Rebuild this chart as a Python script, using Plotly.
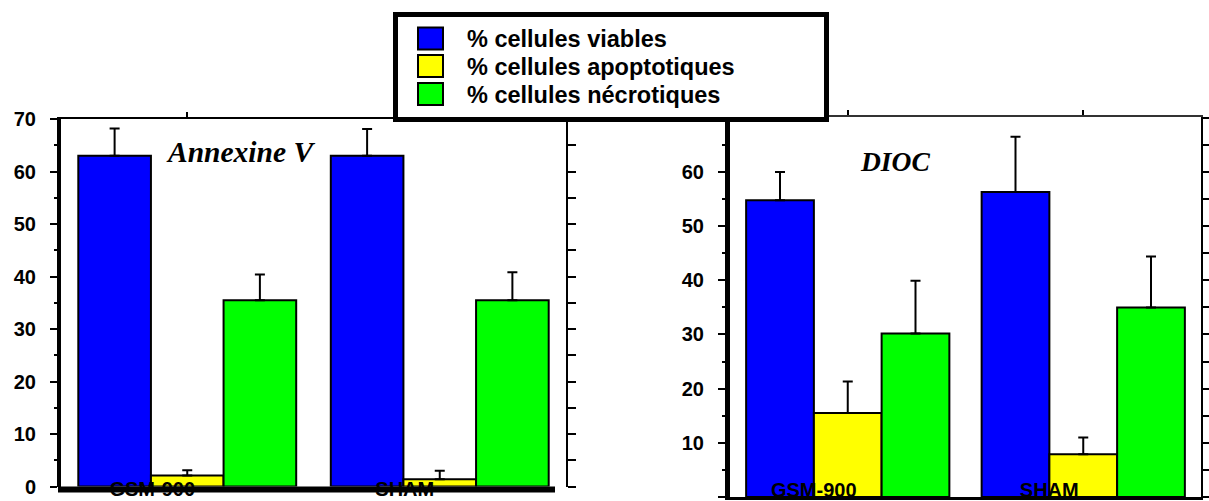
import plotly.graph_objects as go

# ---------------- data ----------------
groups = ["GSM-900", "SHAM"]
series_names = ["% cellules viables", "% cellules apoptotiques", "% cellules nécrotiques"]
series_colors = ["#0000FF", "#FFFF00", "#00FF00"]
panel_titles = ["Annexine V", "DIOC"]

annexine_viables = [63.0, 63.0]
annexine_viables_err = [5.2, 5.1]
annexine_apoptotiques = [2.1, 1.4]
annexine_apoptotiques_err = [1.0, 1.6]
annexine_necrotiques = [35.5, 35.5]
annexine_necrotiques_err = [4.9, 5.3]

dioc_viables = [54.8, 56.3]
dioc_viables_err = [5.2, 10.2]
dioc_apoptotiques = [15.5, 7.9]
dioc_apoptotiques_err = [5.8, 3.1]
dioc_necrotiques = [30.2, 35.0]
dioc_necrotiques_err = [9.7, 9.4]

y_ticks_left = [0, 10, 20, 30, 40, 50, 60, 70]
y_ticks_right = [0, 10, 20, 30, 40, 50, 60]

W, H = 1209, 501
def px_x(v):
    return v / W
def px_y(v):
    return 1 - v / H

FONT = "Arial, Liberation Sans, Arimo, sans-serif"

fig = go.Figure()

panels = [
    ([annexine_viables, annexine_apoptotiques, annexine_necrotiques],
     [annexine_viables_err, annexine_apoptotiques_err, annexine_necrotiques_err], "x", "y"),
    ([dioc_viables, dioc_apoptotiques, dioc_necrotiques],
     [dioc_viables_err, dioc_apoptotiques_err, dioc_necrotiques_err], "x2", "y2"),
]
for vals, errs, xa, ya in panels:
    for name, color, v, e in zip(series_names, series_colors, vals, errs):
        fig.add_trace(go.Bar(
            x=groups, y=v, name=name, xaxis=xa, yaxis=ya, showlegend=False,
            marker=dict(color=color, line=dict(color="black", width=2)),
            error_y=dict(type="data", array=e, arrayminus=[0] * len(e), symmetric=False,
                         color="black", thickness=2, width=5),
        ))

# empty helper traces so the frame axes (top / right) get drawn
for xa, ya in [("x3", "y"), ("x", "y3"), ("x4", "y2"), ("x2", "y4")]:
    fig.add_trace(go.Scatter(x=[None], y=[None], xaxis=xa, yaxis=ya, mode="markers",
                             showlegend=False, hoverinfo="skip"))

tickfont_y = dict(family=FONT, size=20, color="black", weight="bold")
tickfont_x = dict(family=FONT, size=20, color="black", weight="bold")

left_x = [px_x(61), px_x(566)]
left_y = [px_y(486.5), px_y(119)]
right_x = [px_x(730), px_x(1201)]
right_y = [px_y(497), px_y(117)]

frame_common = dict(showgrid=False, zeroline=False, showticklabels=False,
                    ticks="outside", tickwidth=2, tickcolor="black", showline=True,
                    linewidth=2, automargin=False)

fig.update_layout(
    template="none",
    width=W, height=H, margin=dict(l=0, r=0, t=0, b=0, pad=0), autosize=False,
    paper_bgcolor="white", plot_bgcolor="white",
    font=dict(family=FONT, color="black"),
    barmode="group", bargap=0.137, bargroupgap=0,
    xaxis=dict(domain=left_x, anchor="y", type="category", range=[-0.5, 1.5],
               showline=False, ticks="", showgrid=False, zeroline=False, automargin=False,
               tickfont=tickfont_x, ticklabelshift=-35, ticklabelstandoff=-12),
    yaxis=dict(domain=left_y, anchor="x", range=[0, 70], showline=True, linewidth=4,
               linecolor="black", ticks="outside", ticklen=7, tickwidth=2, tickcolor="black",
               tickmode="array", tickvals=y_ticks_left, tickfont=tickfont_y,
               ticklabelstandoff=10, showgrid=False, zeroline=False, automargin=False,
               minor=dict(tickmode="linear", tick0=0, dtick=5, ticks="outside",
                          ticklen=3, tickwidth=2, tickcolor="black", showgrid=False)),
    xaxis3=dict(overlaying="x", anchor="y", side="top", range=[-0.5, 1.5],
                tickmode="linear", tick0=0, dtick=1, ticklen=5, linecolor="black",
                **frame_common),
    yaxis3=dict(overlaying="y", anchor="x", side="right", range=[0, 70],
                tickmode="linear", tick0=0, dtick=5, ticklen=8, linecolor="black",
                **frame_common),
    xaxis2=dict(domain=right_x, anchor="y2", type="category", range=[-0.5, 1.5],
                showline=True, linewidth=3, linecolor="black", ticks="", showgrid=False,
                zeroline=False, automargin=False, tickfont=tickfont_x,
                ticklabelshift=-34, ticklabelstandoff=-27),
    yaxis2=dict(domain=right_y, anchor="x2", range=[0, 70.15], showline=True, linewidth=5,
                linecolor="black", ticks="outside", ticklen=7, tickwidth=2, tickcolor="black",
                tickmode="array", tickvals=y_ticks_right, tickfont=tickfont_y,
                ticklabelstandoff=10, showgrid=False, zeroline=False, automargin=False,
                minor=dict(tickmode="linear", tick0=0, dtick=5, ticks="outside",
                           ticklen=3, tickwidth=2, tickcolor="black", showgrid=False)),
    xaxis4=dict(overlaying="x2", anchor="y2", side="top", range=[-0.5, 1.5],
                tickmode="linear", tick0=0, dtick=1, ticklen=5, linecolor="#333333",
                **frame_common),
    yaxis4=dict(overlaying="y2", anchor="x2", side="right", range=[0, 70.15],
                tickmode="linear", tick0=0, dtick=5, ticklen=7, linecolor="black",
                **frame_common),
)

shapes = []
# thick bottom line of left panel (drawn over the category labels)
shapes.append(dict(type="line", xref="paper", yref="paper", layer="above",
                   x0=px_x(58), x1=px_x(555), y0=px_y(489.5), y1=px_y(489.5),
                   line=dict(color="black", width=6)))
# legend box
shapes.append(dict(type="rect", xref="paper", yref="paper", layer="above",
                   x0=px_x(395.5), x1=px_x(826.5), y0=px_y(119.5), y1=px_y(14.5),
                   fillcolor="white", line=dict(color="black", width=5)))
annotations = []
row_centers = [38.5, 66, 94]
for name, color, yc in zip(series_names, series_colors, row_centers):
    shapes.append(dict(type="rect", xref="paper", yref="paper", layer="above",
                       x0=px_x(418), x1=px_x(443), y0=px_y(yc + 11), y1=px_y(yc - 11),
                       fillcolor=color, line=dict(color="black", width=2)))
    annotations.append(dict(xref="paper", yref="paper", x=px_x(465), y=px_y(yc + 1),
                            xanchor="left", yanchor="middle", showarrow=False,
                            text=name, font=dict(family=FONT, size=23.5, color="black",
                                                 weight="bold")))

# panel titles
for title, (cx, cy), fs in zip(panel_titles, [(240, 152), (895, 161)], [29.5, 27.5]):
    annotations.append(dict(xref="paper", yref="paper", x=px_x(cx), y=px_y(cy),
                            xanchor="center", yanchor="middle", showarrow=False,
                            text="<b><i>" + title + "</i></b>",
                            font=dict(family="Times New Roman, Liberation Serif, serif",
                                      size=fs, color="black")))

fig.update_layout(shapes=shapes, annotations=annotations)
fig.write_html("out.html", config={"displayModeBar": False},
               post_script="document.body.style.margin='0px';")
